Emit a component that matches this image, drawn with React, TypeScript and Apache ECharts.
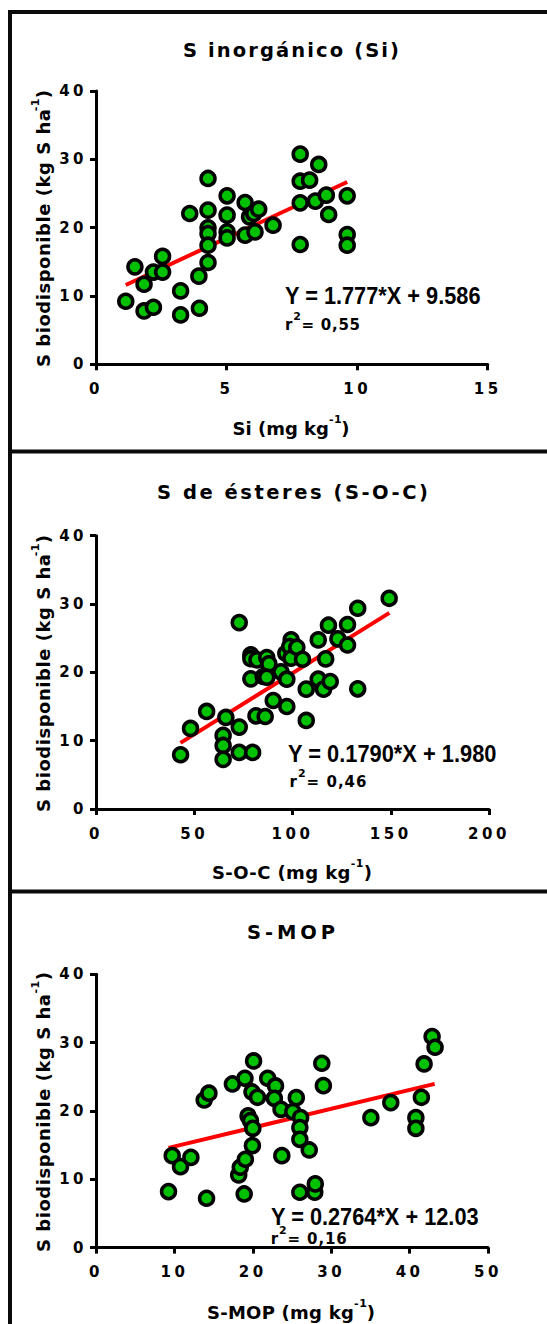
import React, { useEffect, useRef } from "react";
import * as echarts from "echarts";

// ---------- data ----------
const siX = [1.14, 1.49, 1.84, 1.84, 2.2, 2.2, 2.55, 2.55, 3.24, 3.24, 3.59, 3.94, 3.96, 4.29, 4.29, 4.29, 4.29, 4.29, 4.29, 5.02, 5.02, 5.02, 5.02, 5.71, 5.71, 5.88, 6.04, 6.23, 6.09, 6.78, 7.82, 7.82, 8.18, 7.82, 7.82, 8.53, 8.4, 8.82, 8.91, 9.62, 9.62, 9.62];
const siY = [9.23, 14.26, 11.72, 7.81, 13.5, 8.35, 15.8, 13.5, 10.74, 7.23, 22.07, 12.9, 8.2, 27.2, 22.56, 19.97, 19.14, 17.43, 14.9, 24.66, 21.83, 19.38, 18.5, 23.68, 18.9, 21.58, 22.07, 22.7, 19.38, 20.36, 30.76, 26.8, 26.95, 23.63, 17.53, 29.25, 23.88, 24.76, 21.92, 24.66, 18.99, 17.43];
const siFitX = [1.14, 9.62];
const siFitY = [11.61, 26.68];

const socX = [43.05, 48.1, 56.3, 66.1, 64.7, 64.7, 64.7, 72.9, 72.9, 72.9, 79.7, 78.8, 78.8, 78.8, 81.4, 81.9, 85.1, 86.1, 86.9, 88.0, 86.9, 90.2, 94.1, 96.6, 97.1, 97.1, 99.3, 98.6, 99.2, 102.2, 105.1, 107.0, 107.0, 113.1, 113.1, 115.8, 116.9, 118.3, 119.2, 123.1, 128.0, 128.0, 133.2, 133.2, 149.2];
const socY = [7.94, 11.79, 14.28, 13.4, 10.77, 9.3, 7.26, 27.28, 11.99, 8.28, 8.28, 22.56, 22.0, 19.05, 13.64, 21.83, 19.39, 13.54, 22.17, 21.24, 19.29, 15.88, 20.07, 22.8, 19.0, 15.0, 24.75, 23.78, 22.07, 23.68, 21.92, 17.54, 12.96, 24.75, 19.0, 17.54, 21.97, 26.9, 18.66, 24.9, 27.0, 24.0, 29.38, 17.59, 30.84];
const socFitX = [43.0, 149.3];
const socFitY = [9.68, 28.70];

const mopX = [9.25, 9.72, 10.78, 12.1, 13.8, 14.4, 14.1, 17.4, 18.2, 18.4, 19.05, 18.9, 19.0, 19.4, 19.7, 20.0, 19.95, 19.9, 20.1, 20.6, 21.9, 22.9, 22.75, 23.6, 23.7, 25.1, 25.55, 26.1, 26.0, 26.0, 27.2, 26.0, 27.9, 27.97, 28.8, 29.0, 35.06, 37.6, 40.8, 40.8, 41.5, 41.85, 42.87, 43.25];
const mopY = [8.2, 13.46, 11.85, 13.2, 21.6, 22.6, 7.22, 23.95, 10.63, 11.76, 12.93, 7.85, 24.78, 19.27, 18.6, 17.46, 14.93, 22.78, 27.32, 22.0, 24.78, 23.66, 21.85, 20.24, 13.46, 19.9, 21.95, 19.02, 17.56, 15.85, 14.29, 8.1, 8.1, 9.32, 26.98, 23.7, 19.02, 21.22, 19.02, 17.46, 22.0, 26.88, 30.88, 29.32];
const mopFitX = [9.25, 43.2];
const mopFitY = [14.59, 23.97];

const titles = ["S inorgánico (Si)", "S de ésteres (S-O-C)", "S-MOP"];
const xNames = ["Si (mg kg", "S-O-C (mg kg", "S-MOP (mg kg"];
const yName = "S biodisponible (kg S ha";
const equations = ["Y = 1.777*X + 9.586", "Y = 0.1790*X + 1.980", "Y = 0.2764*X + 12.03"];
const r2Values = ["= 0,55", "= 0,46", "= 0,16"];
const xMax = [15, 200, 50];
const xStep = [5, 50, 10];
const yMax = 40;
const yStep = 10;

// ---------- helpers ----------
const pairs = (xs: number[], ys: number[]) => xs.map((x, i) => [x, ys[i]]);
const SANS = "DejaVu Sans";
const ARIAL = "Liberation Sans";
const lsMap = new Map<string, number>();

let ctx: CanvasRenderingContext2D | null = null;
function measure(t: string, size: number, family: string) {
  if (!ctx) ctx = document.createElement("canvas").getContext("2d");
  ctx!.font = `bold ${size}px "${family}"`;
  return ctx!.measureText(t).width;
}

type Part = { t: string; size: number; dy?: number };
function label(
  parts: Part[],
  cx: number,
  cy: number,
  width: number,
  opts: { family?: string; rotation?: number; scaleX?: number; fit?: "ls" | "scale" } = {}
) {
  const family = opts.family ?? SANS;
  const nat = parts.map((p) => measure(p.t, p.size, family));
  const sumNat = nat.reduce((a, b) => a + b, 0);
  const chars = parts.reduce((s, p) => s + p.t.length, 0);
  let scaleX = opts.scaleX ?? 1;
  let ls = 0;
  if (opts.fit === "scale") {
    scaleX = width / sumNat;
  } else {
    ls = Math.max(0, (width / scaleX - sumNat) / Math.max(1, chars - 1));
  }
  const total = sumNat + ls * (chars - 1);
  let x = -total / 2;
  const children: any[] = [];
  parts.forEach((p, i) => {
    children.push({
      type: "text",
      x,
      y: p.dy ?? 0,
      style: {
        text: p.t,
        fontSize: p.size,
        fontFamily: family,
        fontWeight: "bold",
        fill: "#000",
        align: "left",
        verticalAlign: "middle",
      },
    });
    if (ls > 0) lsMap.set(p.t, ls);
    x += nat[i] + ls * p.t.length;
  });
  return {
    type: "group",
    x: cx,
    y: cy,
    rotation: opts.rotation ?? 0,
    scaleX,
    z: 100,
    children,
  };
}

// layout of the three panels (pixels)
const panelTop = [0, 440, 880];
const gridTops = [91, 535.7, 974.3];
const gridWidths = [391.7, 393, 392];
const gridHeight = 273.3;

export default function App() {
  const ref = useRef<HTMLDivElement>(null);

  useEffect(() => {
    const el = ref.current!;
    const chart = echarts.init(el, null, { renderer: "svg" });
    lsMap.clear();

    const tickLs = 3.5;
    for (let p = 0; p < 3; p++) {
      for (let v = 0; v <= xMax[p]; v += xStep[p]) lsMap.set(String(v), tickLs);
    }
    for (let v = 0; v <= yMax; v += yStep) lsMap.set(String(v), tickLs);

    const grids = [0, 1, 2].map((i) => ({
      left: 96,
      top: gridTops[i],
      width: gridWidths[i],
      height: gridHeight,
      containLabel: false,
    }));

    const axisCommon = {
      type: "value" as const,
      min: 0,
      splitLine: { show: false },
      axisLine: { show: true, onZero: false, lineStyle: { color: "#000", width: 3 } },
      axisTick: { show: true, length: 6, lineStyle: { color: "#000", width: 3 } },
    };
    const labelCommon = {
      color: "#000",
      fontFamily: SANS,
      fontWeight: "bold" as const,
      fontSize: 15,
      showMinLabel: true,
      showMaxLabel: true,
    };

    const xAxes = [0, 1, 2].map((i) => ({
      ...axisCommon,
      gridIndex: i,
      max: xMax[i],
      interval: xStep[i],
      axisLabel: { ...labelCommon, margin: 17 },
    }));
    const yAxes = [0, 1, 2].map((i) => ({
      ...axisCommon,
      gridIndex: i,
      max: yMax,
      interval: yStep,
      axisLabel: { ...labelCommon, margin: 9 },
    }));

    const scatterData = [pairs(siX, siY), pairs(socX, socY), pairs(mopX, mopY)];
    const fitData = [pairs(siFitX, siFitY), pairs(socFitX, socFitY), pairs(mopFitX, mopFitY)];

    const series: any[] = [];
    for (let i = 0; i < 3; i++) {
      series.push({
        type: "line",
        xAxisIndex: i,
        yAxisIndex: i,
        data: fitData[i],
        symbol: "none",
        showSymbol: false,
        silent: true,
        z: 2,
        lineStyle: { color: "#ff0000", width: 4 },
      });
      series.push({
        type: "scatter",
        xAxisIndex: i,
        yAxisIndex: i,
        data: scatterData[i],
        symbol: "circle",
        symbolSize: 14,
        silent: true,
        z: 3,
        emphasis: { disabled: true },
        itemStyle: { color: "#00c000", borderColor: "#000", borderWidth: 3.5, opacity: 1 },
      });
    }

    // texts
    const titlePos = [
      { cx: 291, cy: 50, w: 216 },
      { cx: 292.5, cy: 492, w: 271 },
      { cx: 291, cy: 932, w: 88 },
    ];
    const xNamePos = [
      { cx: 291, cy: 428, w: 117 },
      { cx: 292, cy: 872, w: 160 },
      { cx: 291, cy: 1312, w: 168 },
    ];
    const yNamePos = [
      { cy: 228.5, w: 277 },
      { cy: 673.5, w: 277 },
      { cy: 1112, w: 280 },
    ];
    const eqPos = [
      { cx: 383, cy: 296, w: 196 },
      { cx: 392.5, cy: 754, w: 209 },
      { cx: 375, cy: 1217, w: 208 },
    ];
    const r2Pos = [
      { cx: 322.5, cy: 325, w: 75 },
      { cx: 328, cy: 782, w: 77 },
      { cx: 308.7, cy: 1239, w: 76 },
    ];

    const graphics: any[] = [];
    // panel frame lines
    const frame = "#0a0a0a";
    graphics.push({ type: "rect", shape: { x: 8, y: 10, width: 4, height: 1314 }, style: { fill: frame }, z: 50 });
    for (let i = 0; i < 3; i++) {
      graphics.push({
        type: "rect",
        shape: { x: 8, y: panelTop[i] + (i === 0 ? 10 : 9.5), width: 539, height: 4 },
        style: { fill: frame },
        z: 50,
      });
    }
    for (let i = 0; i < 3; i++) {
      graphics.push(label([{ t: titles[i], size: 19.5 }], titlePos[i].cx, titlePos[i].cy, titlePos[i].w));
      graphics.push(
        label(
          [
            { t: xNames[i], size: 18 },
            { t: "-1", size: 11, dy: -9 },
            { t: ")", size: 18 },
          ],
          xNamePos[i].cx,
          xNamePos[i].cy,
          xNamePos[i].w
        )
      );
      graphics.push(
        label(
          [
            { t: yName, size: 18 },
            { t: "-1", size: 11, dy: -8 },
            { t: ")", size: 18 },
          ],
          43,
          yNamePos[i].cy,
          yNamePos[i].w,
          { rotation: Math.PI / 2 }
        )
      );
      graphics.push(
        label([{ t: equations[i], size: 23 }], eqPos[i].cx, eqPos[i].cy, eqPos[i].w, {
          family: ARIAL,
          fit: "scale",
        })
      );
      graphics.push(
        label(
          [
            { t: "r", size: 15 },
            { t: "2", size: 11, dy: -9 },
            { t: r2Values[i], size: 15 },
          ],
          r2Pos[i].cx,
          r2Pos[i].cy,
          r2Pos[i].w
        )
      );
    }

    chart.setOption({
      animation: false,
      backgroundColor: "#ffffff",
      grid: grids,
      xAxis: xAxes,
      yAxis: yAxes,
      series,
      graphic: { elements: graphics },
    });

    const applySpacing = () => {
      el.querySelectorAll("text").forEach((t) => {
        const s = t.textContent ?? "";
        const v = lsMap.get(s);
        if (v !== undefined) t.setAttribute("letter-spacing", v.toFixed(2));
      });
    };
    applySpacing();
    chart.on("finished", applySpacing);
    const timer = setTimeout(applySpacing, 50);

    return () => {
      clearTimeout(timer);
      chart.dispose();
    };
  }, []);

  return (
    <div
      ref={ref}
      style={{ position: "absolute", left: 0, top: 0, width: 547, height: 1324, background: "#fff" }}
    />
  );
}
